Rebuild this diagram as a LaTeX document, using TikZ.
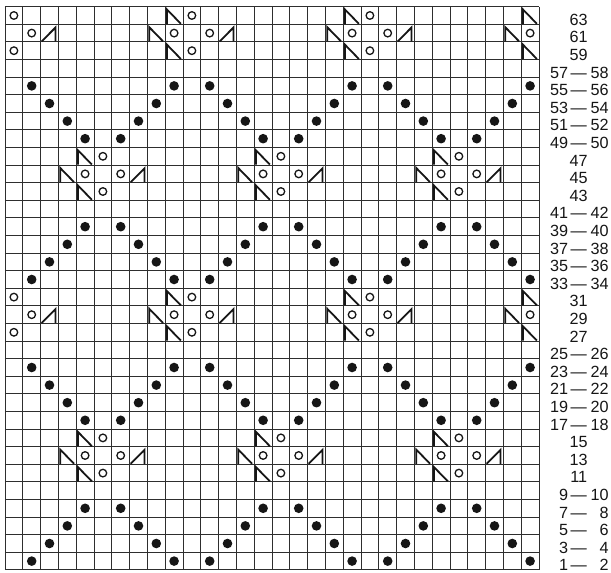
\documentclass[tikz,border=0pt]{standalone}
\usepackage{fontspec}
\setsansfont{Liberation Sans}
\usetikzlibrary{calc}
\definecolor{ink}{HTML}{161616}
\definecolor{gridgray}{HTML}{2E2E2E}
\tikzset{gridline/.style={draw=gridgray,line width=0.95pt}, sym/.style={draw=ink,line width=1.8pt,line join=miter}, rowlbl/.style={font=\sffamily\fontsize{16.2}{18}\selectfont,text=ink,inner sep=0pt}, ssk/.pic={\draw[sym] (0.1,0.03)--(0.1,0.84)--(0.88,0.03);}, ktog/.pic={\draw[sym] (0.06,0.03)--(0.84,0.82)--(0.84,0.03);}, yo/.pic={\draw[draw=ink,line width=1.3pt] (0.5,0.5) circle[radius=3.8pt];}, bead/.pic={\fill[ink] (0.5,0.5) circle[radius=4.8pt];}}
% lace motif: #1 centre column, #2 top row of the motif
\newcommand{\lacemotif}[2]{\pic at (#1-2,#2-1) {ssk}; \pic at (#1-1,#2-1) {yo};
 \pic at (#1-3,#2-2) {ssk}; \pic at (#1-2,#2-2) {yo}; \pic at (#1,#2-2) {yo}; \pic at (#1+1,#2-2) {ktog};
 \pic at (#1-2,#2-3) {ssk}; \pic at (#1-1,#2-3) {yo};}
\newcommand{\rowpair}[2]{\makebox[1.2em][r]{#1}\makebox[1.3em]{—}\makebox[1.2em][r]{#2}}
\begin{document}
\begin{tikzpicture}[x=17.8pt,y=17.6pt]
\useasboundingbox (-5pt,-3.1pt) rectangle (606pt,569.9pt);
% chart grid, 30 stitches x 32 rows
\foreach \i in {0,...,30} \draw[gridline] (\i,0)--(\i,32);
\foreach \j in {0,...,32} \draw[gridline] (0,\j)--(30,\j);
% purl dots on the diagonals
\foreach \b in {0,16} \foreach \k in {1,...,4} {
  \foreach \c in {6-\k,6+\k,16-\k,16+\k,26-\k,26+\k} \pic at (\c-1,\b+4-\k) {bead};
  \foreach \c in {1+\k,11-\k,11+\k,21-\k,21+\k,31-\k} \pic at (\c-1,\b+12-\k) {bead};
}
% lace motifs, cut at the chart edges
\begin{scope}
\clip (0,0) rectangle (30,32);
\foreach \m in {1,11,21,31} {\lacemotif{\m}{32} \lacemotif{\m}{16}}
\foreach \m in {6,16,26} {\lacemotif{\m}{24} \lacemotif{\m}{8}}
\end{scope}
% row numbers
\foreach \r in {6,7,8,14,15,16,22,23,24,30,31,32} {\pgfmathtruncatemacro\n{2*\r-1}
  \node[rowlbl] (l\r) at (32.23,\r-0.74) {\n};}
\foreach \r in {1,2,3,4,5,9,10,11,12,13,17,18,19,20,21,25,26,27,28,29} {\pgfmathtruncatemacro\n{2*\r-1}\pgfmathtruncatemacro\m{2*\r}
  \node[rowlbl] (l\r) at (32.23,\r-0.74) {\rowpair{\n}{\m}};}
\end{tikzpicture}
\end{document}
